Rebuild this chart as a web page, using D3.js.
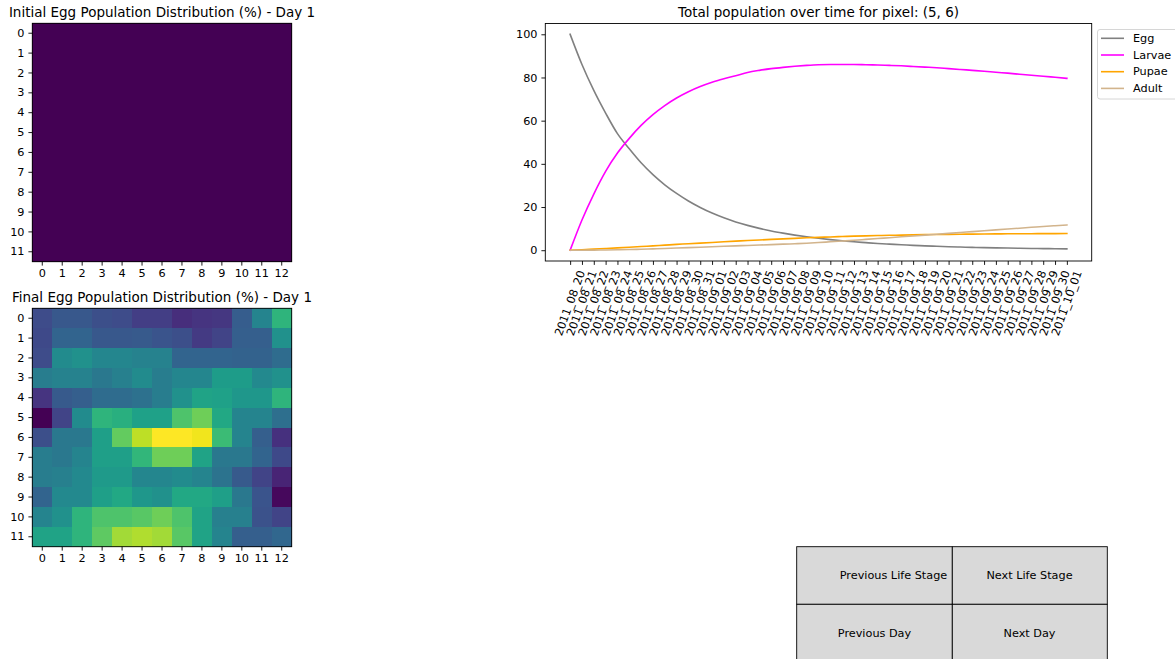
<!DOCTYPE html>
<html>
<head>
<meta charset="utf-8">
<script src="https://cdn.jsdelivr.net/npm/d3@7"></script>
<style>
  body { margin: 0; background: #fff; }
  svg { display: block; }
  text { font-family: "DejaVu Sans", sans-serif; fill: #000; }
</style>
</head>
<body>
<svg id="fig" width="1175" height="659"></svg>
<script>
// ---- data ----
const rowLabels = [0, 1, 2, 3, 4, 5, 6, 7, 8, 9, 10, 11];
const colLabels = [0, 1, 2, 3, 4, 5, 6, 7, 8, 9, 10, 11, 12];

// Egg share per pixel on day 1 (uniform start)
const initialEgg = [
  [1, 1, 1, 1, 1, 1, 1, 1, 1, 1, 1, 1, 1],
  [1, 1, 1, 1, 1, 1, 1, 1, 1, 1, 1, 1, 1],
  [1, 1, 1, 1, 1, 1, 1, 1, 1, 1, 1, 1, 1],
  [1, 1, 1, 1, 1, 1, 1, 1, 1, 1, 1, 1, 1],
  [1, 1, 1, 1, 1, 1, 1, 1, 1, 1, 1, 1, 1],
  [1, 1, 1, 1, 1, 1, 1, 1, 1, 1, 1, 1, 1],
  [1, 1, 1, 1, 1, 1, 1, 1, 1, 1, 1, 1, 1],
  [1, 1, 1, 1, 1, 1, 1, 1, 1, 1, 1, 1, 1],
  [1, 1, 1, 1, 1, 1, 1, 1, 1, 1, 1, 1, 1],
  [1, 1, 1, 1, 1, 1, 1, 1, 1, 1, 1, 1, 1],
  [1, 1, 1, 1, 1, 1, 1, 1, 1, 1, 1, 1, 1],
  [1, 1, 1, 1, 1, 1, 1, 1, 1, 1, 1, 1, 1]
];

// Egg share per pixel after the run
const finalEgg = [
  [0.23, 0.27, 0.27, 0.24, 0.23, 0.18, 0.18, 0.13, 0.15, 0.16, 0.29, 0.45, 0.65],
  [0.22, 0.32, 0.32, 0.27, 0.27, 0.28, 0.26, 0.24, 0.17, 0.20, 0.30, 0.30, 0.50],
  [0.23, 0.48, 0.50, 0.46, 0.46, 0.44, 0.44, 0.32, 0.32, 0.32, 0.31, 0.31, 0.35],
  [0.42, 0.44, 0.44, 0.40, 0.43, 0.48, 0.42, 0.46, 0.46, 0.55, 0.55, 0.47, 0.50],
  [0.15, 0.28, 0.30, 0.35, 0.35, 0.37, 0.42, 0.50, 0.58, 0.57, 0.53, 0.53, 0.65],
  [0.00, 0.20, 0.48, 0.65, 0.63, 0.57, 0.57, 0.72, 0.78, 0.60, 0.45, 0.45, 0.36],
  [0.24, 0.40, 0.40, 0.56, 0.76, 0.90, 1.00, 1.00, 0.98, 0.68, 0.45, 0.30, 0.14],
  [0.42, 0.40, 0.45, 0.56, 0.56, 0.66, 0.78, 0.78, 0.58, 0.40, 0.40, 0.32, 0.22],
  [0.42, 0.43, 0.47, 0.54, 0.54, 0.46, 0.46, 0.48, 0.45, 0.38, 0.28, 0.20, 0.10],
  [0.32, 0.47, 0.47, 0.56, 0.60, 0.53, 0.50, 0.60, 0.60, 0.56, 0.40, 0.26, 0.02],
  [0.45, 0.50, 0.65, 0.72, 0.72, 0.74, 0.78, 0.72, 0.58, 0.43, 0.43, 0.25, 0.20],
  [0.58, 0.58, 0.65, 0.75, 0.86, 0.88, 0.86, 0.74, 0.58, 0.45, 0.30, 0.30, 0.33]
];

const dates = [
  "2011_08_20", "2011_08_21", "2011_08_22", "2011_08_23", "2011_08_24", "2011_08_25",
  "2011_08_26", "2011_08_27", "2011_08_28", "2011_08_29", "2011_08_30", "2011_08_31",
  "2011_09_01", "2011_09_02", "2011_09_03", "2011_09_04", "2011_09_05", "2011_09_06",
  "2011_09_07", "2011_09_08", "2011_09_09", "2011_09_10", "2011_09_11", "2011_09_12",
  "2011_09_13", "2011_09_14", "2011_09_15", "2011_09_16", "2011_09_17", "2011_09_18",
  "2011_09_19", "2011_09_20", "2011_09_21", "2011_09_22", "2011_09_23", "2011_09_24",
  "2011_09_25", "2011_09_26", "2011_09_27", "2011_09_28", "2011_09_29", "2011_09_30",
  "2011_10_01"
];

const eggSeries = [100, 86, 74, 63.5, 54, 47, 40.5, 35, 30.3, 26.3, 22.8, 19.8, 17.2, 15, 13.1,
  11.5, 10.1, 8.9, 7.9, 7.0, 6.2, 5.5, 4.9, 4.4, 3.9, 3.5, 3.1, 2.8, 2.5, 2.25, 2.0, 1.8, 1.6,
  1.45, 1.3, 1.2, 1.1, 1.0, 0.9, 0.82, 0.75, 0.68, 0.62];
const larvaeSeries = [0, 14, 26, 36.5, 45, 51.8, 57.8, 62.8, 67, 70.5, 73.4, 75.8, 77.8, 79.4,
  80.8, 82.3, 83.3, 84.1, 84.7, 85.2, 85.6, 85.9, 86.0, 86.0, 86.0, 85.9, 85.8, 85.6, 85.4, 85.1,
  84.8, 84.5, 84.1, 83.7, 83.3, 82.9, 82.4, 82.0, 81.5, 81.0, 80.6, 80.1, 79.6];
const pupaeSeries = [0, 0.2, 0.5, 0.8, 1.1, 1.4, 1.7, 2.0, 2.35, 2.7, 3.0, 3.3, 3.6, 3.9, 4.2,
  4.5, 4.75, 5.0, 5.25, 5.5, 5.75, 5.95, 6.15, 6.35, 6.5, 6.65, 6.8, 6.9, 7.0, 7.1, 7.2, 7.3,
  7.35, 7.4, 7.45, 7.5, 7.55, 7.6, 7.62, 7.65, 7.68, 7.7, 7.72];
const adultSeries = [0, 0, 0.05, 0.1, 0.2, 0.3, 0.45, 0.6, 0.8, 1.0, 1.2, 1.4, 1.6, 1.8, 2.0,
  2.2, 2.4, 2.6, 2.8, 3.0, 3.25, 3.55, 3.9, 4.25, 4.6, 5.0, 5.4, 5.8, 6.2, 6.6, 7.0, 7.4, 7.8,
  8.2, 8.6, 9.0, 9.4, 9.8, 10.2, 10.6, 11.0, 11.35, 11.7];

const seriesNames = ["Egg", "Larvae", "Pupae", "Adult"];
const seriesColors = ["#808080", "#ff00ff", "#ffa500", "#d2b48c"];
const yTicks = [0, 20, 40, 60, 80, 100];
const buttonLabels = [["Previous Life Stage", "Next Life Stage"], ["Previous Day", "Next Day"]];

// ---- drawing ----
const svg = d3.select("#fig");
const TICK_FONT = 11.25;
const TITLE_FONT = 13.5;
const TICK_LEN = 3.9;
const TICK_PAD = 3.9;

function styleAxis(a) {
  a.select(".domain").remove();
  a.selectAll("line").attr("stroke", "#000").attr("stroke-width", 0.9);
  a.selectAll("text").style("font-family", "DejaVu Sans").style("font-size", TICK_FONT + "px").attr("fill", "#000");
}

function heatmap(grid, title, box) {
  const g = svg.append("g");
  const x = d3.scaleBand().domain(colLabels).range([box.left, box.right]);
  const y = d3.scaleBand().domain(rowLabels).range([box.top, box.bottom]);
  const flat = grid.flat();
  const lo = d3.min(flat), hi = d3.max(flat);
  // a flat field maps to the bottom of the colormap
  const color = lo === hi
    ? () => d3.interpolateViridis(0)
    : d3.scaleSequential(d3.interpolateViridis).domain([lo, hi]);

  const cells = g.append("g").attr("shape-rendering", "crispEdges");
  rowLabels.forEach(r => {
    colLabels.forEach(c => {
      cells.append("rect")
        .attr("x", x(c)).attr("y", y(r))
        .attr("width", x.bandwidth() + 0.6).attr("height", y.bandwidth() + 0.6)
        .attr("fill", color(grid[r][c]));
    });
  });

  g.append("rect")
    .attr("x", box.left).attr("y", box.top)
    .attr("width", box.right - box.left).attr("height", box.bottom - box.top)
    .attr("fill", "none").attr("stroke", "#000").attr("stroke-width", 0.9);

  styleAxis(g.append("g").attr("transform", `translate(0,${box.bottom})`)
    .call(d3.axisBottom(x).tickSize(TICK_LEN).tickPadding(TICK_PAD)));
  styleAxis(g.append("g").attr("transform", `translate(${box.left},0)`)
    .call(d3.axisLeft(y).tickSize(TICK_LEN).tickPadding(TICK_PAD)));

  g.append("text")
    .attr("x", (box.left + box.right) / 2).attr("y", box.top - 6.5)
    .attr("text-anchor", "middle")
    .style("font-size", TITLE_FONT + "px")
    .text(title);
}

heatmap(initialEgg, "Initial Egg Population Distribution (%) - Day 1",
  { left: 32.3, right: 291.7, top: 23.3, bottom: 261.7 });
heatmap(finalEgg, "Final Egg Population Distribution (%) - Day 1",
  { left: 32.3, right: 291.7, top: 308.3, bottom: 546.7 });

// ---- population over time ----
const plot = { left: 545.3, right: 1091.7, top: 23.5, bottom: 261 };
const n = dates.length;
const pad = (n - 1) * 0.05;
const x = d3.scaleLinear().domain([-pad, n - 1 + pad]).range([plot.left, plot.right]);
const y = d3.scaleLinear().domain([-5, 105]).range([plot.bottom, plot.top]);
const lc = svg.append("g");

const allSeries = [eggSeries, larvaeSeries, pupaeSeries, adultSeries];
const line = d3.line().x((d, i) => x(i)).y(d => y(d)).curve(d3.curveMonotoneX);
allSeries.forEach((s, k) => {
  lc.append("path")
    .datum(s)
    .attr("d", line)
    .attr("fill", "none")
    .attr("stroke", seriesColors[k])
    .attr("stroke-width", 1.6)
    .attr("stroke-linejoin", "round")
    .attr("stroke-linecap", "square");
});

lc.append("rect")
  .attr("x", plot.left).attr("y", plot.top)
  .attr("width", plot.right - plot.left).attr("height", plot.bottom - plot.top)
  .attr("fill", "none").attr("stroke", "#000").attr("stroke-width", 0.9);

styleAxis(lc.append("g").attr("transform", `translate(${plot.left},0)`)
  .call(d3.axisLeft(y).tickValues(yTicks).tickSize(TICK_LEN).tickPadding(TICK_PAD)));

styleAxis(lc.append("g").attr("transform", `translate(0,${plot.bottom})`)
  .call(d3.axisBottom(x).tickValues(d3.range(n)).tickSize(TICK_LEN).tickFormat("")));

// rotated date labels: bounding box centred on the tick, top aligned below it
const ANG = 70 * Math.PI / 180;
const labelTop = plot.bottom + TICK_LEN + TICK_PAD;
dates.forEach((d, i) => {
  const t = lc.append("text")
    .style("font-size", TICK_FONT + "px")
    .attr("text-anchor", "middle")
    .attr("dominant-baseline", "central")
    .text(d);
  const w = t.node().getComputedTextLength();
  const h = TICK_FONT * 1.16;
  const bh = w * Math.sin(ANG) + h * Math.cos(ANG);
  t.attr("transform", `translate(${x(i)},${labelTop + bh / 2}) rotate(-70)`);
});

lc.append("text")
  .attr("x", (plot.left + plot.right) / 2).attr("y", plot.top - 6.5)
  .attr("text-anchor", "middle")
  .style("font-size", TITLE_FONT + "px")
  .text("Total population over time for pixel: (5, 6)");

// legend
const lg = svg.append("g");
lg.append("rect")
  .attr("x", 1097.5).attr("y", 29.5).attr("width", 90).attr("height", 69.5)
  .attr("rx", 2.5).attr("fill", "#fff").attr("fill-opacity", 0.8)
  .attr("stroke", "#d6d6d6").attr("stroke-width", 1);
seriesNames.forEach((name, k) => {
  const cy = 38.3 + k * 16.7;
  lg.append("line")
    .attr("x1", 1101).attr("x2", 1124).attr("y1", cy).attr("y2", cy)
    .attr("stroke", seriesColors[k]).attr("stroke-width", 1.6);
  lg.append("text")
    .attr("x", 1133).attr("y", cy)
    .attr("dominant-baseline", "central")
    .style("font-size", TICK_FONT + "px")
    .text(name);
});

// control buttons
const btn = svg.append("g");
const colEdges = [796.7, 952.3, 1107.3];
const rowEdges = [546.7, 604.3, 661.9];
const textCentres = [[893.5, 1029.5], [874.5, 1029.5]];
buttonLabels.forEach((row, r) => {
  row.forEach((label, c) => {
    btn.append("rect")
      .attr("x", colEdges[c]).attr("y", rowEdges[r])
      .attr("width", colEdges[c + 1] - colEdges[c]).attr("height", rowEdges[r + 1] - rowEdges[r])
      .attr("fill", "#d9d9d9").attr("stroke", "#000").attr("stroke-width", 0.9);
    btn.append("text")
      .attr("x", textCentres[r][c]).attr("y", (rowEdges[r] + rowEdges[r + 1]) / 2)
      .attr("text-anchor", "middle").attr("dominant-baseline", "central")
      .style("font-size", TICK_FONT + "px")
      .text(label);
  });
});
</script>
</body>
</html>
